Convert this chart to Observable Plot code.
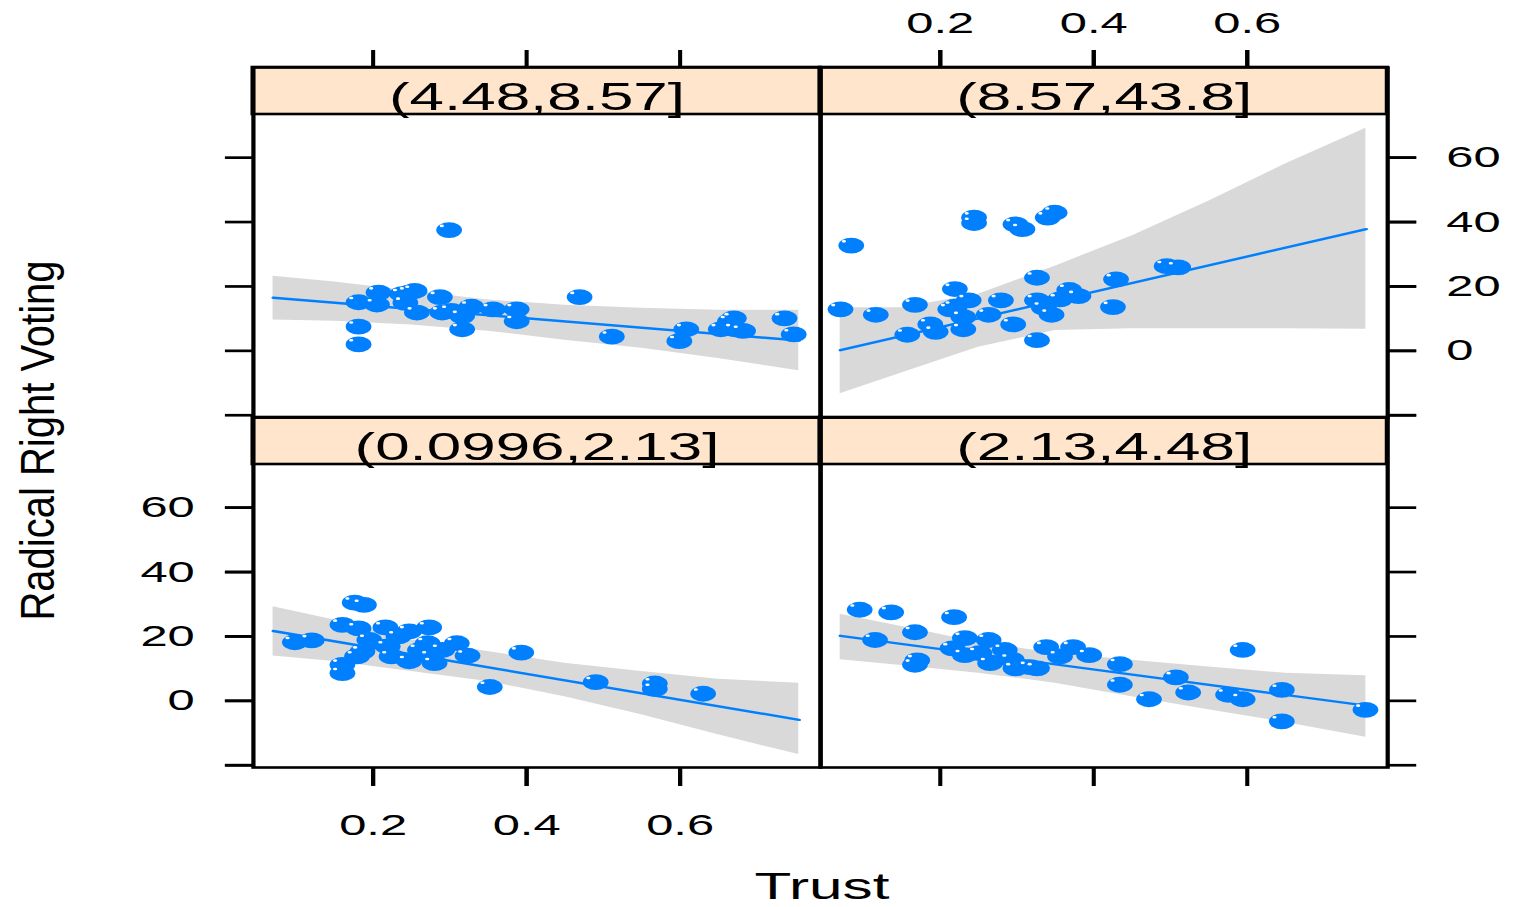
<!DOCTYPE html>
<html>
<head>
<meta charset="utf-8">
<script src="https://cdn.jsdelivr.net/npm/d3@7"></script>
<script src="https://cdn.jsdelivr.net/npm/@observablehq/plot@0.6"></script>
<style>
  html, body { margin: 0; padding: 0; background: #fff; }
  #chart { width: 1514px; height: 907px; overflow: hidden; }
</style>
</head>
<body>
<div id="chart"></div>
<script>
// ---------- DATA ----------
const panelLabels = ["(0.0996,2.13]", "(2.13,4.48]", "(4.48,8.57]", "(8.57,43.8]"];

// panel 1: (0.0996,2.13]
const trust1 = [0.176, 0.188, 0.098, 0.120, 0.160, 0.181, 0.216, 0.247, 0.273, 0.186, 0.179, 0.160, 0.160, 0.195, 0.219, 0.224, 0.247, 0.271, 0.276, 0.290, 0.309, 0.323, 0.280, 0.393, 0.352, 0.490, 0.567, 0.567, 0.630, 0.233, 0.261];
const vote1  = [30.5, 29.8, 18.2, 18.8, 23.6, 22.5, 22.8, 21.6, 22.8, 15.3, 13.8, 11.2, 8.6, 18.9, 16.9, 13.8, 12.3, 17.9, 13.8, 15.8, 17.9, 14.0, 11.7, 15.0, 4.3, 5.8, 5.4, 3.7, 2.2, 20.0, 15.8];

// panel 2: (2.13,4.48]
const trust2 = [0.095, 0.136, 0.115, 0.167, 0.170, 0.167, 0.218, 0.216, 0.232, 0.263, 0.232, 0.251, 0.284, 0.265, 0.293, 0.298, 0.326, 0.338, 0.356, 0.373, 0.394, 0.434, 0.434, 0.472, 0.507, 0.523, 0.594, 0.575, 0.594, 0.645, 0.645, 0.754, 0.317];
const vote2  = [28.3, 27.5, 18.9, 21.3, 12.6, 11.2, 26.0, 16.3, 19.5, 18.9, 14.2, 14.8, 15.8, 11.7, 12.8, 10.1, 10.1, 16.7, 13.8, 16.7, 14.2, 11.4, 5.0, 0.5, 7.3, 2.6, 15.8, 1.9, 0.5, 3.4, -6.4, -2.8, 10.5];

// panel 3: (4.48,8.57]
const trust3 = [0.299, 0.181, 0.207, 0.205, 0.238, 0.247, 0.242, 0.257, 0.287, 0.290, 0.302, 0.328, 0.316, 0.356, 0.387, 0.387, 0.469, 0.181, 0.181, 0.511, 0.608, 0.599, 0.653, 0.665, 0.672, 0.736, 0.748, 0.682, 0.670, 0.254, 0.316];
const vote3  = [37.5, 15.1, 18.1, 14.4, 17.6, 18.1, 14.9, 11.9, 16.7, 11.9, 12.4, 13.7, 6.7, 12.9, 12.9, 9.2, 16.7, 7.5, 2.0, 4.4, 6.7, 3.0, 6.7, 9.2, 6.7, 10.1, 5.1, 6.2, 10.1, 18.6, 10.8];

// panel 4: (8.57,43.8]
const trust4 = [0.084, 0.070, 0.116, 0.167, 0.157, 0.219, 0.187, 0.194, 0.219, 0.237, 0.230, 0.230, 0.244, 0.244, 0.298, 0.307, 0.349, 0.340, 0.326, 0.279, 0.263, 0.295, 0.326, 0.326, 0.335, 0.345, 0.368, 0.380, 0.356, 0.429, 0.425, 0.495, 0.510, 0.213];
const vote4  = [32.7, 12.9, 11.2, 14.3, 5.0, 19.2, 8.2, 5.9, 13.7, 15.7, 10.5, 6.7, 41.4, 39.7, 39.3, 37.8, 42.9, 41.4, 22.7, 15.7, 11.2, 8.2, 3.3, 15.7, 13.4, 11.2, 18.9, 17.0, 16.0, 22.2, 13.6, 26.3, 25.9, 12.9];

// confidence bands (read at these Trust values)
const bandTrust = [0.07, 0.15, 0.25, 0.35, 0.45, 0.55, 0.65, 0.755];
const lower1 = [13.9, 12.2, 9.1, 6.0, 1.3, -4.3, -10.5, -16.7];
const upper1 = [29.2, 25.1, 19.0, 15.3, 11.7, 9.1, 6.7, 5.5];
const lower2 = [12.8, 11.0, 8.6, 5.5, 1.3, -2.8, -6.7, -11.3];
const upper2 = [26.9, 23.1, 18.2, 14.8, 12.6, 10.5, 8.6, 7.8];
const lower3 = [9.6, 9.2, 8.0, 6.1, 3.3, 0.8, -2.4, -6.2];
const upper3 = [23.2, 21.4, 18.6, 15.8, 14.2, 13.2, 12.6, 12.6];
const lower4 = [-13.3, -6.9, 1.1, 6.3, 6.9, 6.9, 6.9, 6.7];
const upper4 = [13.4, 13.4, 17.6, 26.3, 35.7, 46.5, 58.0, 69.1];

// fitted lines (end points)
const fitTrust = [0.07, 0.755];
const fit1 = [21.7, -5.9];
const fit2 = [20.2, -1.5];
const fit3 = [16.5, 3.2];
const fit4 = [0.2, 37.8];

// ticks
const xTicks = [0.2, 0.4, 0.6];
const xTickLabels = ["0.2", "0.4", "0.6"];
const yTicks = [-20, 0, 20, 40, 60];
const yTickLabels = ["", "0", "20", "40", "60"];
const xTitle = "Trust";
const yTitle = "Radical Right Voting";

// ---------- LAYOUT ----------
const W = 929, H = 907;              // drawing frame, stretched horizontally to 1514
const S = 1514 / W;
const xDomain = [0.044, 0.783];
const yDomain = [-20.7, 88.0];        // includes the strip above each panel
const stripBottom = 73.4;
const lw = 2.6;
const blue = "#0080ff";
const fontFamily = '"Liberation Sans", Arial, Helvetica, sans-serif';

const trusts = [trust1, trust2, trust3, trust4];
const votes = [vote1, vote2, vote3, vote4];
const lowers = [lower1, lower2, lower3, lower4];
const uppers = [upper1, upper2, upper3, upper4];
const fits = [fit1, fit2, fit3, fit4];

// lattice layout: panels fill from bottom-left, left to right, then upwards
const cell = i => ({col: i % 2, row: 1 - Math.floor(i / 2)});
const panels = panelLabels.map((label, i) => ({label, ...cell(i)}));
const points = trusts.flatMap((xs, i) => xs.map((x, j) => ({...cell(i), x, y: votes[i][j]})));
const band = lowers.flatMap((lo, i) => bandTrust.map((x, j) => ({...cell(i), x, lo: lo[j], hi: uppers[i][j]})));
const fit = fits.flatMap((f, i) => fitTrust.map((x, j) => ({...cell(i), x, y: f[j]})));

const xFmt = d => xTickLabels[xTicks.indexOf(d)];
const yFmt = d => yTickLabels[yTicks.indexOf(d)];
const none = () => "";

const chart = Plot.plot({
  width: W,
  height: H,
  marginLeft: 154,
  marginRight: 77.3,
  marginTop: 67,
  marginBottom: 140,
  style: {fontFamily, fontSize: "30px", color: "black", background: "white", overflow: "visible"},
  fx: {domain: [0, 1], padding: 0, axis: null},
  fy: {domain: [0, 1], padding: 0, axis: null},
  x: {domain: xDomain},
  y: {domain: yDomain},
  marks: [
    // strips
    Plot.rect(panels, {fx: "col", fy: "row", x1: xDomain[0], x2: xDomain[1], y1: stripBottom, y2: yDomain[1],
      fill: "#ffe5cc", stroke: "black", strokeWidth: lw}),
    Plot.text(panels, {fx: "col", fy: "row", y: stripBottom, text: "label", lineAnchor: "bottom", dy: -4.5,
      fontSize: 38, fill: "black"}),
    // confidence band, fit, points
    Plot.areaY(band, {fx: "col", fy: "row", x: "x", y1: "lo", y2: "hi", fill: "#d9d9d9"}),
    Plot.line(fit, {fx: "col", fy: "row", x: "x", y: "y", stroke: blue, strokeWidth: 2.4}),
    Plot.dot(points, {fx: "col", fy: "row", x: "x", y: "y", r: 7.9, fill: blue}),
    Plot.dot(points, {fx: "col", fy: "row", x: "x", y: "y", r: 1.3, fill: "white", dx: -4.5, dy: -4.2}),
    Plot.frame({stroke: "black", strokeWidth: lw}),
    // tick marks on the outer sides
    Plot.axisY(yTicks, {anchor: "left", facetAnchor: "left", tickSize: 17, tickFormat: none, strokeWidth: 2.7, label: null}),
    Plot.axisY(yTicks, {anchor: "right", facetAnchor: "right", tickSize: 17, tickFormat: none, strokeWidth: 2.7, label: null}),
    Plot.axisX(xTicks, {anchor: "top", facetAnchor: "top", tickSize: 18, tickFormat: none, strokeWidth: 2.5, label: null}),
    Plot.axisX(xTicks, {anchor: "bottom", facetAnchor: "bottom", tickSize: 19, tickFormat: none, strokeWidth: 2.5, label: null}),
    // alternating labels (lattice style)
    Plot.axisY(yTicks, {anchor: "left", fx: yTicks.map(() => 0), fy: yTicks.map(() => 1), tickSize: 17, tickPadding: 19,
      tickFormat: yFmt, fontSize: 30, strokeWidth: 2.7, label: null}),
    Plot.axisY(yTicks, {anchor: "right", fx: yTicks.map(() => 1), fy: yTicks.map(() => 0), tickSize: 17, tickPadding: 19,
      tickFormat: yFmt, fontSize: 30, strokeWidth: 2.7, label: null}),
    Plot.axisX(xTicks, {anchor: "top", fx: xTicks.map(() => 1), fy: xTicks.map(() => 0), tickSize: 18, tickPadding: 17,
      tickFormat: xFmt, fontSize: 30, strokeWidth: 2.5, label: null}),
    Plot.axisX(xTicks, {anchor: "bottom", fx: xTicks.map(() => 0), fy: xTicks.map(() => 1), tickSize: 19, tickPadding: 27,
      tickFormat: xFmt, fontSize: 30, strokeWidth: 2.5, label: null})
  ]
});

// axis titles
const svg = d3.select(chart);
const panelsCenter = (154 + (W - 77.3)) / 2;
svg.append("text")
  .attr("x", panelsCenter + 1.5).attr("y", 899)
  .attr("text-anchor", "middle")
  .attr("font-size", 37)
  .attr("textLength", 135 / S).attr("lengthAdjust", "spacingAndGlyphs")
  .attr("fill", "black")
  .text(xTitle);
svg.append("text")
  .attr("transform", `translate(${54 / S},440.5) rotate(-90) scale(1,0.74)`)
  .attr("text-anchor", "middle")
  .attr("font-size", 40)
  .attr("fill", "black")
  .text(yTitle);

// horizontal stretch of the whole drawing
chart.setAttribute("width", 1514);
chart.setAttribute("height", 907);
chart.setAttribute("preserveAspectRatio", "none");
chart.style.width = "1514px";
chart.style.height = "907px";
chart.style.maxWidth = "none";
document.getElementById("chart").appendChild(chart);
</script>
</body>
</html>
